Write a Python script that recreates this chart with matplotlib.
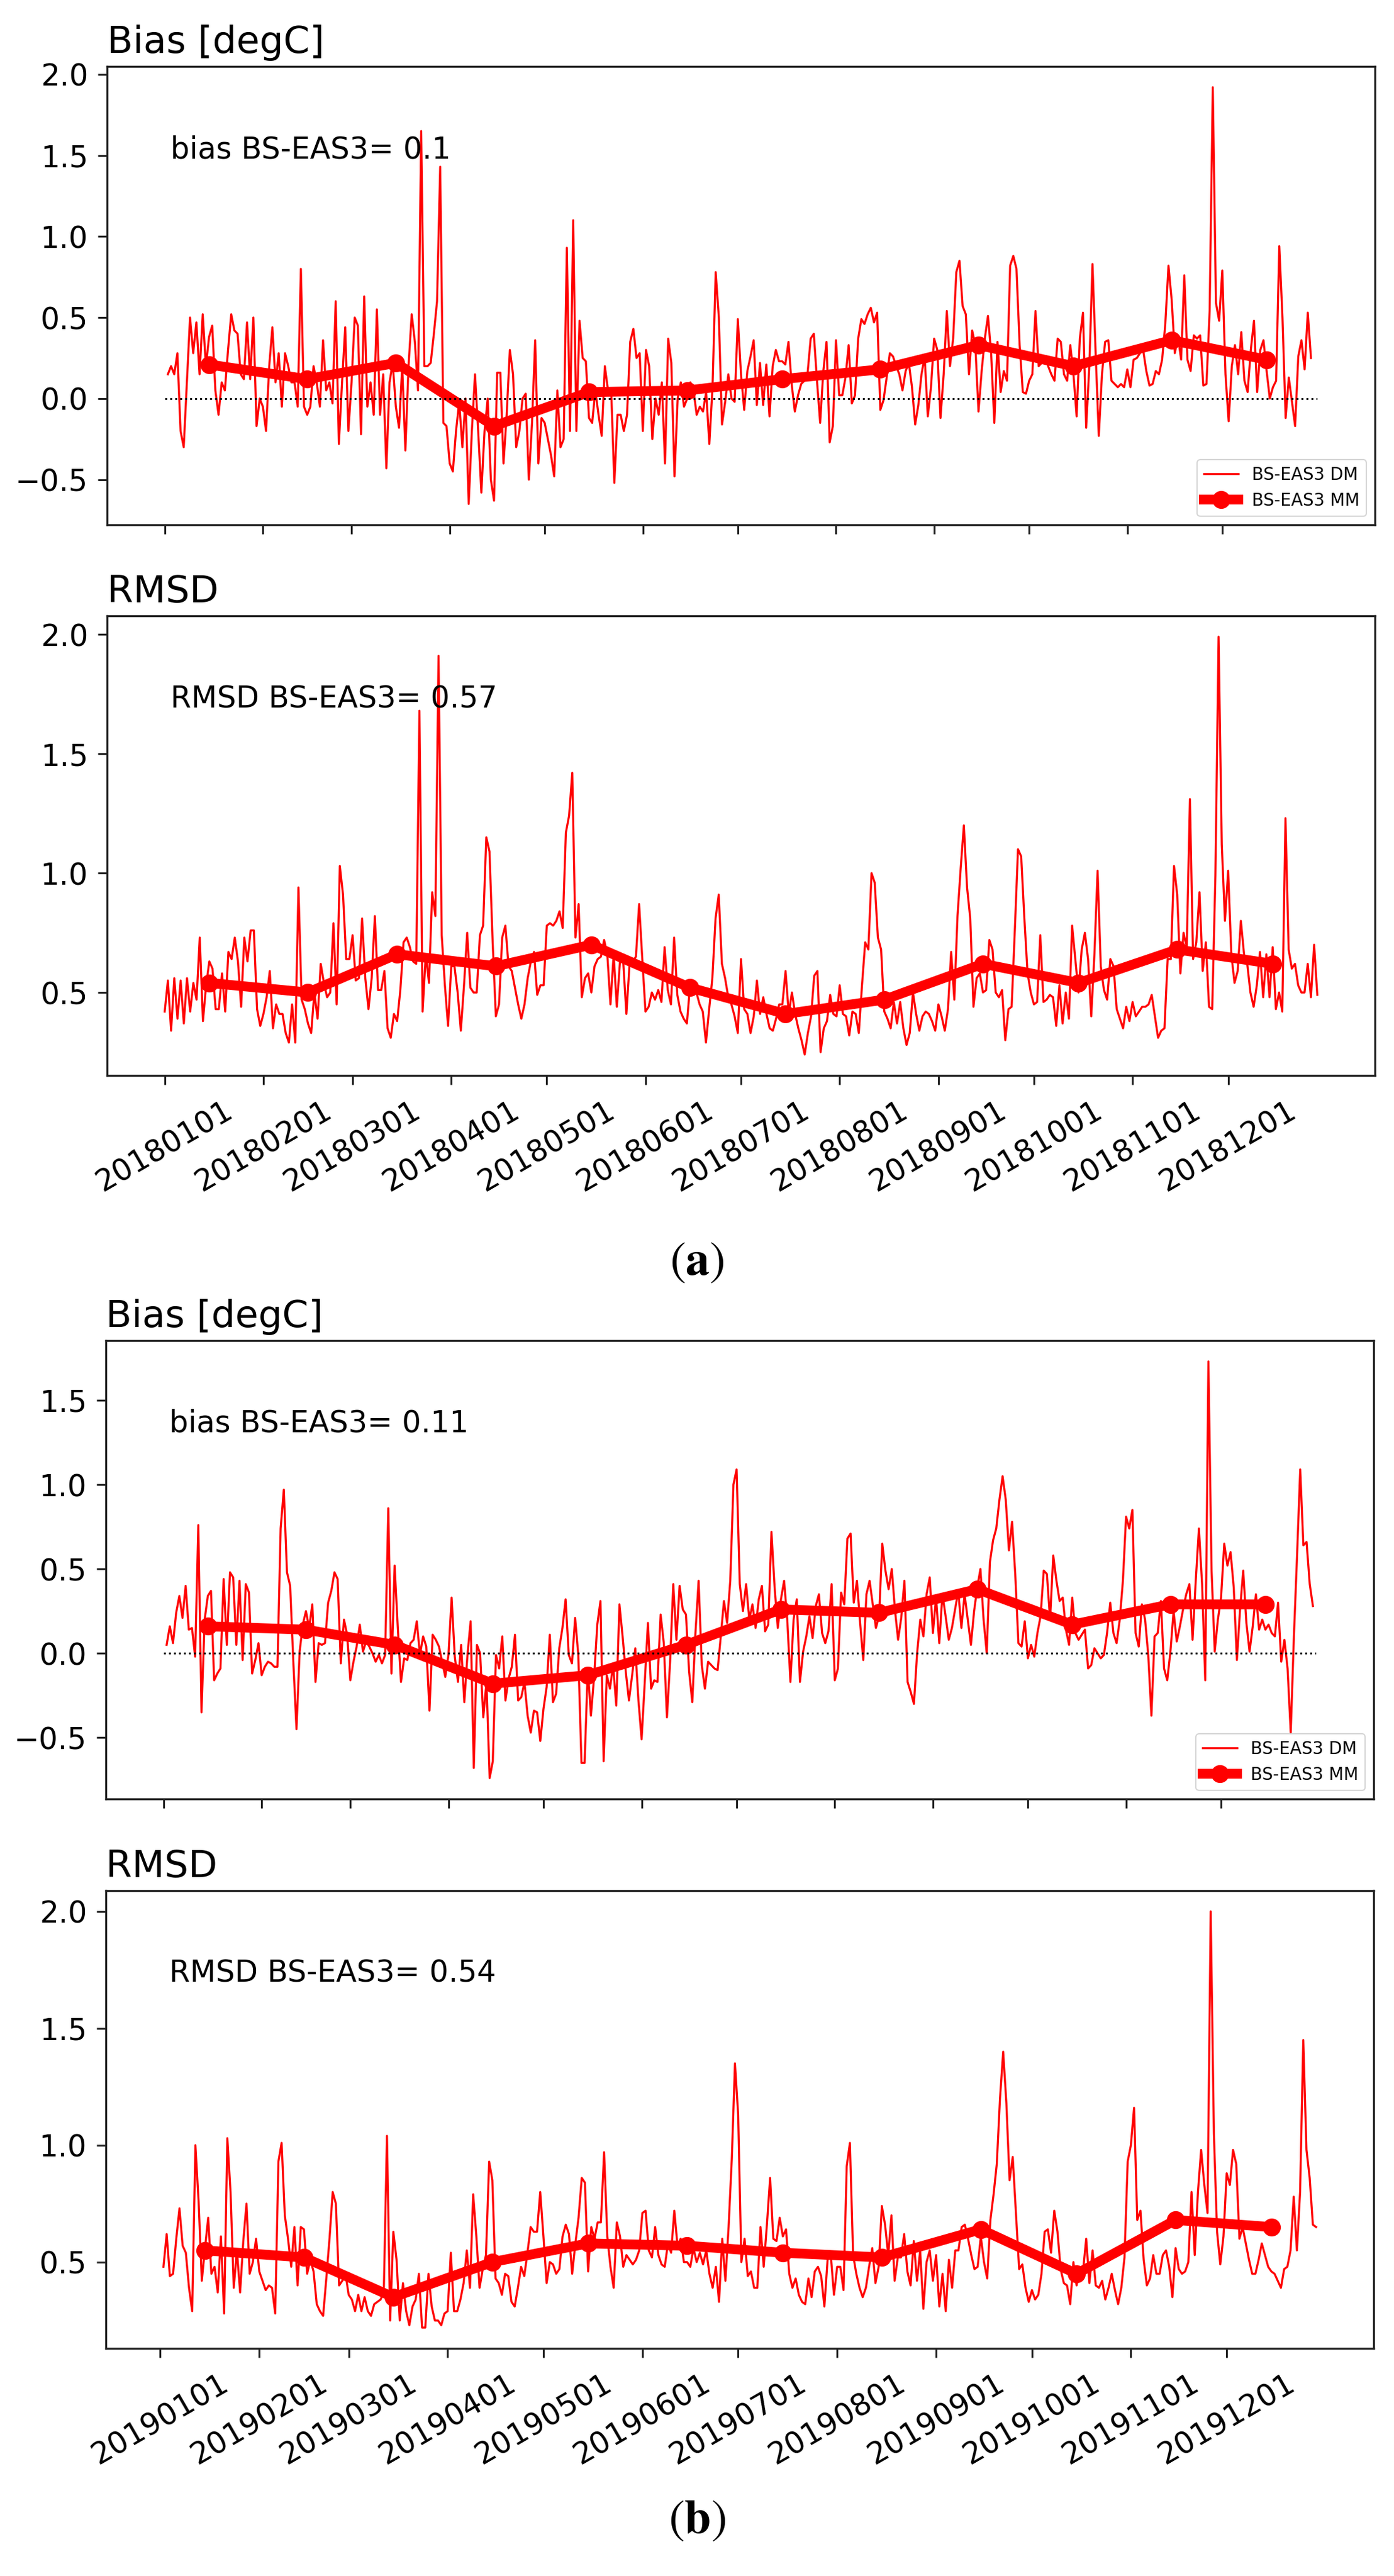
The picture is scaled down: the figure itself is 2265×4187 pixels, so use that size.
import numpy as np
import matplotlib
matplotlib.use('Agg')
import matplotlib.pyplot as plt
from matplotlib.ticker import MultipleLocator

plt.rcParams['mathtext.fontset'] = 'stix'

# ---------------- data ----------------
month_starts = [0, 31, 59, 90, 120, 151, 181, 212, 243, 273, 304, 334]
labels_2018 = ['20180101', '20180201', '20180301', '20180401', '20180501', '20180601',
               '20180701', '20180801', '20180901', '20181001', '20181101', '20181201']
labels_2019 = ['20190101', '20190201', '20190301', '20190401', '20190501', '20190601',
               '20190701', '20190801', '20190901', '20191001', '20191101', '20191201']
mm_offset = 14  # monthly means plotted on the 15th

# (a) 2018 bias, daily mean (first value = day index 1)
bias_a_first_day = 1
bias_a_dm = [
    0.15, 0.2, 0.15, 0.28, -0.2, -0.3, 0.1, 0.5, 0.28, 0.47,
    0.15, 0.52, 0.2, 0.38, 0.45, 0.05, -0.1, 0.1, 0.05, 0.3,
    0.52, 0.42, 0.4, 0.15, 0.12, 0.47, 0.12, 0.5, -0.17, 0.0,
    -0.05, -0.2, 0.2, 0.44, 0.1, 0.28, -0.05, 0.28, 0.2, 0.1,
    0.1, -0.05, 0.8, -0.05, -0.1, -0.05, 0.2, 0.1, -0.05, 0.36,
    0.05, 0.1, -0.03, 0.6, -0.28, 0.1, 0.44, -0.2, 0.1, 0.5,
    0.45, -0.22, 0.63, -0.05, 0.1, -0.1, 0.55, -0.1, 0.15, -0.43,
    0.1, 0.22, -0.05, -0.18, 0.2, -0.32, 0.2, 0.52, 0.35, 0.05,
    1.65, 0.2, 0.2, 0.22, 0.4, 0.6, 1.43, -0.15, -0.17, -0.4,
    -0.45, -0.2, -0.02, -0.3, 0.0, -0.65, -0.2, 0.15, -0.2, -0.58,
    -0.2, 0.0, -0.5, -0.63, 0.16, 0.16, -0.4, -0.1, 0.3, 0.15,
    -0.3, -0.2, 0.0, 0.03, -0.5, -0.15, 0.36, -0.4, -0.12, -0.15,
    -0.25, -0.35, -0.48, 0.05, -0.3, -0.25, 0.93, -0.2, 1.1, -0.2,
    0.48, 0.25, 0.23, -0.12, -0.15, 0.05, -0.1, -0.23, 0.2, 0.05,
    0.05, -0.52, -0.1, -0.1, -0.2, -0.1, 0.35, 0.43, 0.25, 0.28,
    -0.2, 0.3, 0.2, -0.25, 0.0, -0.1, 0.1, -0.4, 0.37, 0.22,
    -0.48, 0.0, 0.1, -0.05, 0.0, 0.1, 0.05, -0.1, -0.05,
    -0.08, 0.04, -0.28, 0.07, 0.78, 0.50, -0.16, -0.02, 0.15, 0.0,
    -0.02, 0.49, 0.15, -0.07, 0.17, 0.26, 0.36, -0.04, 0.22, -0.04,
    0.21, -0.11, 0.2, 0.3, 0.23, 0.23, 0.21, 0.35, 0.09, -0.08,
    0.02, 0.09, 0.11, 0.15, 0.37, 0.4, 0.11, -0.15, 0.17, 0.35,
    -0.27, -0.17, 0.36, 0.02, 0.02, 0.13, 0.33, -0.03, 0.02, 0.37,
    0.49, 0.46, 0.52, 0.56, 0.47, 0.53, -0.07, -0.01, 0.13, 0.28,
    0.26, 0.2, 0.15, 0.05, 0.17, 0.22, 0.07, -0.16, -0.04, 0.15,
    0.26, -0.11, 0.07, 0.37, 0.3, -0.12, 0.15, 0.54, 0.2, 0.37,
    0.78, 0.85, 0.57, 0.52, 0.15, 0.42, 0.33, -0.08, 0.17, 0.37,
    0.51, 0.28, -0.15, 0.35, 0.04, 0.17, 0.11, 0.82, 0.88, 0.8,
    0.33, 0.04, 0.03, 0.11, 0.15, 0.54, 0.2, 0.22, 0.26, 0.2,
    0.15, 0.11, 0.37, 0.35, 0.15, 0.11, 0.33, 0.15, -0.11, 0.37,
    0.53, -0.18, 0.2, 0.83, 0.28, -0.23, 0.15, 0.35, 0.36, 0.11,
    0.09, 0.07, 0.09, 0.07, 0.18, 0.07, 0.24, 0.25, 0.28, 0.3,
    0.17, 0.08, 0.09, 0.17, 0.15, 0.24, 0.46, 0.82, 0.61, 0.28,
    0.38, 0.24, 0.76, 0.24, 0.17, 0.39, 0.37, 0.39, 0.08, 0.09,
    0.54, 1.92, 0.59, 0.48, 0.79, 0.15, -0.14, 0.2, 0.33, 0.15,
    0.41, 0.11, 0.04, 0.3, 0.48, 0.04, 0.3, 0.36, 0.17, 0.0,
    0.07, 0.11, 0.94, 0.5, -0.12, 0.13, -0.02, -0.17, 0.26, 0.36,
    0.18, 0.53, 0.25]
bias_a_mm = [0.21, 0.12, 0.22, -0.17, 0.04, 0.05, 0.12, 0.18, 0.33, 0.20, 0.36, 0.24]

# (a) 2018 RMSD, daily mean (first value = day index 0)
rmsd_a_first_day = 0
rmsd_a_dm = [
    0.42, 0.55, 0.34, 0.56, 0.39, 0.55, 0.37, 0.56, 0.42, 0.54,
    0.47, 0.73, 0.38, 0.53, 0.63, 0.6, 0.43, 0.43, 0.58, 0.42,
    0.67, 0.64, 0.73, 0.63, 0.44, 0.73, 0.63, 0.76, 0.76, 0.43,
    0.36, 0.41, 0.48, 0.59, 0.35, 0.45, 0.41, 0.41, 0.33, 0.29,
    0.45, 0.29, 0.94, 0.47, 0.43, 0.37, 0.33, 0.5, 0.39, 0.62,
    0.54, 0.48, 0.5, 0.79, 0.45, 1.03, 0.91, 0.64, 0.64, 0.74,
    0.55, 0.56, 0.81, 0.56, 0.43, 0.56, 0.82, 0.51, 0.51, 0.59,
    0.35, 0.31, 0.41, 0.38, 0.51, 0.71, 0.73, 0.69, 0.63, 0.62,
    1.68, 0.42, 0.66, 0.54, 0.92, 0.82, 1.91, 0.74, 0.53, 0.36,
    0.61, 0.61, 0.5, 0.34, 0.53, 0.75, 0.52, 0.5, 0.5, 0.74,
    0.78, 1.15, 1.09, 0.71, 0.4, 0.45, 0.73, 0.78, 0.61, 0.59,
    0.52, 0.45, 0.39, 0.45, 0.56, 0.63, 0.67, 0.49, 0.53, 0.53,
    0.78, 0.79, 0.78, 0.8, 0.84, 0.77, 1.17, 1.24, 1.42, 0.73,
    0.87, 0.48, 0.56, 0.58, 0.5, 0.61, 0.64, 0.65, 0.72, 0.66,
    0.45, 0.66, 0.44, 0.63, 0.63, 0.41, 0.62, 0.63, 0.65, 0.87,
    0.64, 0.42, 0.44, 0.5, 0.47, 0.51, 0.46, 0.69, 0.51, 0.45,
    0.73, 0.49, 0.42, 0.39, 0.37, 0.53, 0.54, 0.5, 0.45, 0.42,
    0.29,
    0.43, 0.56, 0.81, 0.91, 0.62, 0.56, 0.48, 0.45, 0.4, 0.33,
    0.64, 0.43, 0.41, 0.33, 0.4, 0.55, 0.41, 0.48, 0.41, 0.35,
    0.34, 0.39, 0.45, 0.45, 0.59, 0.41, 0.5, 0.41, 0.35, 0.3,
    0.24, 0.33, 0.4, 0.57, 0.59, 0.25, 0.35, 0.38, 0.49, 0.41,
    0.4, 0.53, 0.41, 0.4, 0.32, 0.42, 0.41, 0.33, 0.53, 0.71,
    0.68, 1.0, 0.96, 0.73, 0.68, 0.42, 0.39, 0.35, 0.46, 0.37,
    0.46, 0.35, 0.28, 0.33, 0.5, 0.41, 0.34, 0.4, 0.42, 0.41,
    0.38, 0.34, 0.45, 0.4, 0.34, 0.43, 0.67, 0.47, 0.82, 1.02,
    1.2, 0.94, 0.81, 0.44, 0.56, 0.58, 0.5, 0.51, 0.72, 0.68,
    0.5, 0.48, 0.51, 0.3, 0.43, 0.44, 0.76, 1.1, 1.07, 0.81,
    0.58, 0.5, 0.45, 0.46, 0.74, 0.46, 0.47, 0.49, 0.48, 0.36,
    0.53, 0.37, 0.5, 0.39, 0.78, 0.64, 0.5, 0.68, 0.75, 0.64,
    0.4, 0.66, 1.01, 0.61, 0.51, 0.47, 0.64, 0.61, 0.43, 0.39,
    0.35, 0.44, 0.38, 0.46, 0.4, 0.42, 0.44, 0.44, 0.45, 0.49,
    0.4, 0.31, 0.34, 0.35, 0.64, 0.64, 1.03, 0.91, 0.58, 0.75,
    0.69, 1.31, 0.64, 0.71, 0.92, 0.59, 0.71, 0.44, 0.43, 0.99,
    1.99, 1.12, 0.8, 1.01, 0.66, 0.54, 0.59, 0.8, 0.66, 0.62,
    0.5, 0.44, 0.53, 0.67, 0.48, 0.66, 0.48, 0.69, 0.43, 0.5,
    0.42, 1.23, 0.68, 0.6, 0.62, 0.53, 0.5, 0.5, 0.62, 0.48,
    0.7, 0.49]
rmsd_a_mm = [0.54, 0.50, 0.66, 0.61, 0.70, 0.52, 0.41, 0.47, 0.62, 0.54, 0.68, 0.62]

# (b) 2019 bias, daily mean (first value = day index 1)
bias_b_first_day = 1
bias_b_dm = [
    0.05, 0.16, 0.06, 0.24, 0.34, 0.21, 0.4, 0.14, 0.15, -0.02,
    0.76, -0.35, 0.2, 0.34, 0.37, -0.16, -0.12, -0.09, 0.44, 0.05,
    0.48, 0.45, 0.05, 0.43, -0.04, 0.41, 0.36, -0.12, -0.04, 0.06,
    -0.13, -0.08, -0.05, -0.06, -0.08, -0.08, 0.74, 0.97, 0.48, 0.4,
    -0.05, -0.45, 0.01, 0.17, 0.25, 0.15, 0.29, -0.17, 0.06, 0.05,
    0.06, 0.3, 0.37, 0.48, 0.44, -0.06, 0.2, 0.11, -0.16, -0.05,
    0.04, 0.17, 0.01, 0.07, 0.04, 0.0, -0.05, -0.01, -0.06, -0.01,
    0.86, -0.12, 0.52, 0.15, -0.17, -0.03, -0.04, 0.06, 0.08, 0.19,
    -0.01, 0.1, 0.04, -0.34, 0.11, 0.08, 0.04, -0.05, -0.14, -0.01,
    0.33, -0.02, -0.17, 0.05, -0.29, -0.01, 0.19, -0.68, 0.05, 0.0,
    -0.38, -0.17, -0.74, -0.64, -0.01, -0.09, 0.1, -0.28, -0.15, -0.08,
    0.11, -0.28, -0.26, -0.17, -0.37, -0.47, -0.34, -0.35, -0.52, -0.33,
    -0.2, 0.11, -0.29, -0.24, 0.03, 0.15, 0.32, -0.01, -0.06, 0.21,
    -0.01, -0.65, -0.65, -0.09, -0.37, -0.14, 0.17, 0.31, -0.64, -0.13,
    -0.21, -0.07, -0.31, 0.29, 0.1, -0.11, -0.28, -0.13, 0.03, -0.28,
    -0.51, -0.17, 0.18, -0.21, -0.16, -0.17, 0.23, 0.06, -0.38, -0.05,
    0.41, 0.08, 0.4, 0.26, 0.23, -0.11, -0.29, 0.12, 0.43, -0.07,
    -0.21, -0.05,
    -0.07, -0.09, -0.1, 0.1, 0.31, 0.18, 0.43, 1.0, 1.09, 0.41,
    0.25, 0.41, 0.2, 0.29, 0.15, 0.32, 0.4, 0.13, 0.17, 0.72,
    0.39, 0.15, 0.32, 0.43, 0.2, -0.17, 0.2, 0.32, -0.17, 0.01,
    0.1, 0.22, 0.09, 0.28, 0.35, 0.12, 0.06, 0.13, 0.41, -0.16,
    -0.09, 0.36, 0.29, 0.68, 0.71, 0.3, 0.43, 0.18, -0.04, 0.35,
    0.43, 0.29, 0.15, 0.22, 0.65, 0.49, 0.38, 0.5, 0.26, 0.08,
    0.21, 0.43, -0.17, -0.23, -0.3, 0.0, 0.2, 0.1, 0.35, 0.45,
    0.12, 0.33, 0.06, 0.35, 0.22, 0.08, 0.15, 0.26, 0.37, 0.15,
    0.35, 0.2, 0.05, 0.25, 0.39, 0.5, 0.2, 0.0, 0.54, 0.67,
    0.74, 0.91, 1.05, 0.91, 0.61, 0.78, 0.47, 0.06, 0.04, 0.19,
    -0.03, 0.05, -0.02, 0.12, 0.22, 0.49, 0.47, 0.2, 0.58, 0.43,
    0.31, 0.33, 0.14, 0.05, 0.33, 0.12, 0.08, 0.11, 0.14, -0.09,
    -0.07, 0.03, 0.0, -0.03, -0.01, 0.12, 0.3, 0.12, 0.06, 0.2,
    0.43, 0.81, 0.74, 0.85, 0.12, 0.04, 0.29, 0.2, -0.01, -0.37,
    0.1, 0.12, 0.31, -0.09, -0.16, 0.01, 0.25, 0.07, 0.16, 0.26,
    0.35, 0.41, 0.08, 0.43, 0.74, 0.41, -0.16, 1.73, 0.49, 0.01,
    0.2, 0.33, 0.65, 0.52, 0.6, 0.39, -0.04, 0.26, 0.49, 0.18,
    0.01, 0.16, 0.35, 0.14, 0.2, 0.14, 0.17, 0.12, 0.1, 0.3,
    -0.05, 0.08, -0.09, -0.47, 0.1, 0.58, 1.09, 0.64, 0.66, 0.41,
    0.28]
bias_b_mm = [0.16, 0.14, 0.05, -0.18, -0.13, 0.05, 0.26, 0.24, 0.38, 0.17, 0.29, 0.29]

# (b) 2019 RMSD, daily mean (first value = day index 1)
rmsd_b_first_day = 1
rmsd_b_dm = [
    0.48, 0.62, 0.44, 0.45, 0.6, 0.73, 0.57, 0.54, 0.39, 0.29,
    1.0, 0.76, 0.42, 0.56, 0.69, 0.45, 0.48, 0.37, 0.61, 0.28,
    1.03, 0.8, 0.39, 0.55, 0.37, 0.59, 0.75, 0.45, 0.5, 0.6,
    0.46, 0.42, 0.38, 0.4, 0.39, 0.28, 0.93, 1.01, 0.7, 0.6,
    0.48, 0.65, 0.4, 0.65, 0.64, 0.45, 0.51, 0.46, 0.32, 0.29,
    0.27, 0.43, 0.6, 0.8, 0.75, 0.4, 0.42, 0.45, 0.36, 0.34,
    0.29, 0.36, 0.29, 0.35, 0.29, 0.27, 0.32, 0.33, 0.34, 0.37,
    1.04, 0.25, 0.63, 0.51, 0.25, 0.41, 0.29, 0.23, 0.31, 0.34,
    0.45, 0.22, 0.22, 0.45, 0.31, 0.25, 0.25, 0.23, 0.28, 0.29,
    0.54, 0.29, 0.29, 0.34, 0.41, 0.55, 0.39, 0.79, 0.61, 0.39,
    0.47, 0.53, 0.93, 0.85, 0.43, 0.41, 0.36, 0.45, 0.44, 0.33,
    0.31, 0.39, 0.48, 0.44, 0.54, 0.65, 0.63, 0.63, 0.8, 0.61,
    0.41, 0.5, 0.49, 0.45, 0.47, 0.61, 0.66, 0.62, 0.45, 0.58,
    0.69, 0.86, 0.84, 0.46, 0.65, 0.6, 0.67, 0.67, 0.97, 0.61,
    0.48, 0.39, 0.67, 0.61, 0.48, 0.53, 0.51, 0.49, 0.51, 0.55,
    0.71, 0.72, 0.55, 0.52, 0.65, 0.53, 0.49, 0.48, 0.58, 0.54,
    0.72, 0.57, 0.6, 0.5, 0.5, 0.48, 0.56, 0.5, 0.54, 0.49,
    0.55, 0.45,
    0.39, 0.48, 0.33, 0.6, 0.42, 0.65, 0.94, 1.35, 1.13, 0.5,
    0.6, 0.44, 0.46, 0.39, 0.39, 0.65, 0.48, 0.66, 0.86, 0.6,
    0.59, 0.69, 0.61, 0.64, 0.45, 0.39, 0.43, 0.36, 0.33, 0.32,
    0.43, 0.35, 0.46, 0.48, 0.44, 0.31, 0.51, 0.53, 0.36, 0.48,
    0.48, 0.38, 0.91, 1.01, 0.53, 0.45, 0.39, 0.35, 0.39, 0.48,
    0.56, 0.41, 0.48, 0.74, 0.66, 0.53, 0.7, 0.42, 0.52, 0.52,
    0.62, 0.46, 0.4, 0.59, 0.42, 0.55, 0.3, 0.5, 0.55, 0.42,
    0.53, 0.31, 0.45, 0.29, 0.51, 0.39, 0.55, 0.55, 0.65, 0.66,
    0.6, 0.53, 0.47, 0.48, 0.61, 0.5, 0.43, 0.68, 0.79, 0.92,
    1.2, 1.4, 1.18, 0.85, 0.95, 0.71, 0.47, 0.49, 0.39, 0.33,
    0.38, 0.34, 0.36, 0.45, 0.63, 0.64, 0.54, 0.72, 0.63, 0.47,
    0.41, 0.4, 0.32, 0.5, 0.4, 0.48, 0.46, 0.6, 0.41, 0.55,
    0.4, 0.39, 0.42, 0.34, 0.39, 0.45, 0.38, 0.32, 0.39, 0.52,
    0.93, 1.0, 1.16, 0.68, 0.72, 0.51, 0.4, 0.43, 0.53, 0.45,
    0.45, 0.53, 0.55, 0.48, 0.35, 0.56, 0.47, 0.45, 0.46, 0.5,
    0.8, 0.53, 0.8, 0.98, 0.83, 0.71, 2.0, 1.05, 0.63, 0.49,
    0.61, 0.88, 0.83, 0.98, 0.92, 0.6, 0.65, 0.58, 0.51, 0.45,
    0.45, 0.51, 0.58, 0.53, 0.48, 0.46, 0.45, 0.42, 0.39, 0.47,
    0.48, 0.55, 0.78, 0.55, 0.8, 1.45, 0.98, 0.86, 0.66, 0.65]
rmsd_b_mm = [0.55, 0.52, 0.35, 0.50, 0.58, 0.57, 0.54, 0.52, 0.64, 0.45, 0.68, 0.65]

year_span = [0, 364]   # zero reference line from Jan 1 to Dec 31

bias_a_text = 'bias BS-EAS3= 0.1'
rmsd_a_text = 'RMSD BS-EAS3= 0.57'
bias_b_text = 'bias BS-EAS3= 0.11'
rmsd_b_text = 'RMSD BS-EAS3= 0.54'

# ---------------- figure ----------------
W, H = 2265, 4187
fig = plt.figure(figsize=(W / 100, H / 100), dpi=100)
fig.patch.set_facecolor('white')

def px_axes(top, bottom, left=174, right=2234):
    return fig.add_axes([left / W, 1 - bottom / H, (right - left) / W, (bottom - top) / H])

TICK_FS = 35
TEXT_FS = 35
TITLE_FS = 44

def style(ax):
    for s in ax.spines.values():
        s.set_linewidth(2.4)
        s.set_color('#222222')
    ax.tick_params(axis='both', length=11, width=2.2, labelsize=TICK_FS, color='#222222')
    ax.tick_params(axis='y', pad=11)
    ax.tick_params(axis='x', pad=13)
    ax.yaxis.set_major_locator(MultipleLocator(0.5))

def draw(ax, first_day, dm, mm, is_bias, text, title, xlabels, legend):
    days = first_day + np.arange(len(dm))
    mm_days = np.array(month_starts) + mm_offset
    ax.plot(days, dm, color='red', lw=2.4, label='BS-EAS3 DM')
    ax.plot(mm_days, mm, color='red', lw=11.5, marker='o', markersize=20, label='BS-EAS3 MM')
    if is_bias:
        ax.plot(year_span, [0, 0], linestyle=':', color='black', lw=2.2)
    ax.set_xticks(month_starts)
    if xlabels is None:
        ax.tick_params(axis='x', labelbottom=False)
    else:
        ax.set_xticklabels(xlabels, rotation=30, ha='center')
    ax.text(0.05, 0.8, text, transform=ax.transAxes, fontsize=TEXT_FS, va='baseline')
    ax.set_title(title, loc='left', fontsize=TITLE_FS, pad=16)
    if legend:
        leg = ax.legend(loc='lower right', fontsize=20, borderaxespad=0.5)
        leg.get_frame().set_linewidth(1.5)
    style(ax)

ax1 = px_axes(108, 853)
draw(ax1, bias_a_first_day, bias_a_dm, bias_a_mm, True, bias_a_text, 'Bias [degC]', None, True)
ax2 = px_axes(1001, 1748)
draw(ax2, rmsd_a_first_day, rmsd_a_dm, rmsd_a_mm, False, rmsd_a_text, 'RMSD', labels_2018, False)
ax3 = px_axes(2179, 2924, 172, 2232)
draw(ax3, bias_b_first_day, bias_b_dm, bias_b_mm, True, bias_b_text, 'Bias [degC]', None, True)
ax4 = px_axes(3073, 3817, 172, 2232)
draw(ax4, rmsd_b_first_day, rmsd_b_dm, rmsd_b_mm, False, rmsd_b_text, 'RMSD', labels_2019, False)

fig.text(0.5, 1 - 2050 / H, r'$(\mathbf{a})$', ha='center', va='center', fontsize=56)
fig.text(0.5, 1 - 4095 / H, r'$(\mathbf{b})$', ha='center', va='center', fontsize=56)

fig.savefig('out.png', dpi=100, facecolor='white')
